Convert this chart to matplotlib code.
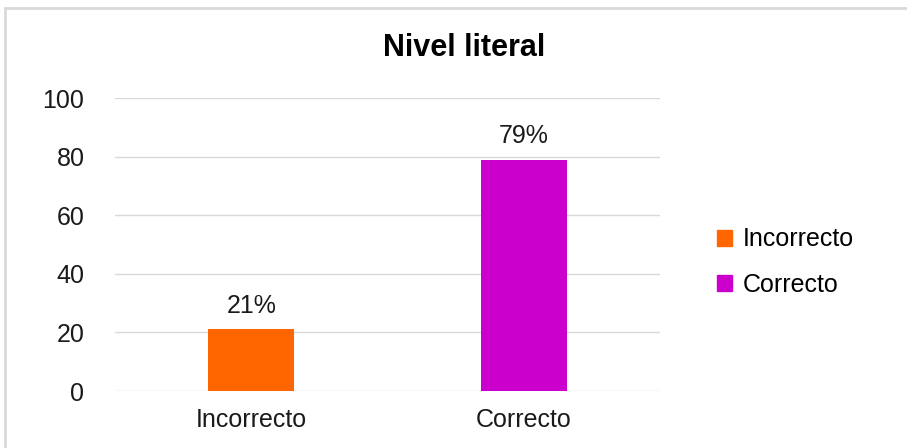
import matplotlib.pyplot as plt
from matplotlib.patches import Rectangle, Patch

plt.rcParams['font.family'] = ['Liberation Sans', 'DejaVu Sans']

# Data
categorias = ["Incorrecto", "Correcto"]
valores = [21, 79]
etiquetas = ["21%", "79%"]
colores = ["#FF6600", "#CC00CC"]
yticks = [0, 20, 40, 60, 80, 100]

fig = plt.figure(figsize=(9.07, 4.48), dpi=100)
ax = fig.add_axes([0.1268, 0.1272, 0.601, 0.654])

# Grey border around the chart
fig.patches.append(Rectangle((5 / 907, -0.05), 1.1, 1 - 8 / 448 + 0.05, transform=fig.transFigure,
                             fill=False, edgecolor="#d9d9d9", linewidth=2))

ax.set_axisbelow(True)
ax.grid(axis="y", color="#d9d9d9", linewidth=1)
bars = ax.bar(categorias, valores, width=0.315, color=colores)
ax.bar_label(bars, labels=etiquetas, padding=8, fontsize=18, color="#1a1a1a")

ax.set_ylim(0, 100)
ax.set_xlim(-0.5, 1.5)
ax.set_yticks(yticks)
ax.tick_params(axis="both", length=0, labelsize=18, colors="#1a1a1a")
ax.tick_params(axis="y", pad=22)
ax.tick_params(axis="x", pad=12)
for s in ax.spines.values():
    s.set_visible(False)

fig.text(0.512, 0.892, "Nivel literal", ha="center", va="center", fontsize=22, fontweight="bold")

handles = [Patch(color=c, label=l) for c, l in zip(colores, categorias)]
fig.legend(handles=handles, loc="center left", bbox_to_anchor=(0.766, 0.415), frameon=False,
           fontsize=18, handlelength=0.6, handleheight=0.6, handletextpad=0.4, labelspacing=0.85)

fig.savefig("out.png", dpi=100)
